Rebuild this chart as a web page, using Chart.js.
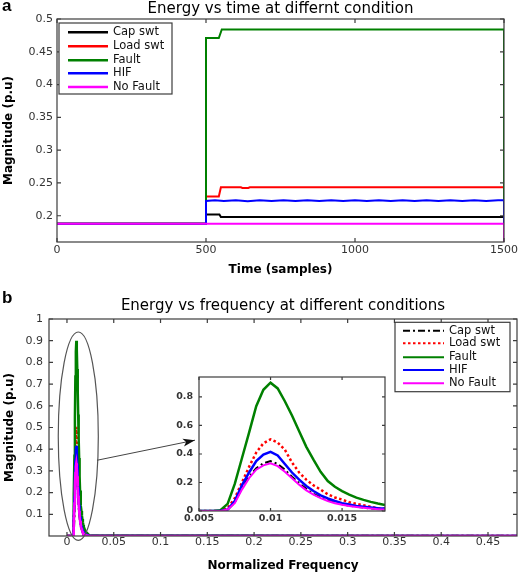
<!DOCTYPE html>
<html>
<head>
<meta charset="utf-8">
<script src="https://cdn.jsdelivr.net/npm/chart.js@4.4.0/dist/chart.umd.min.js"></script>
<style>
html,body{margin:0;padding:0;background:#fff;}
#wrap{position:relative;width:520px;height:573px;overflow:hidden;background:#fff;}
canvas{position:absolute;}
</style>
</head>
<body>
<div id="wrap">
<canvas id="cA" width="520" height="283" style="left:0;top:0;width:520px;height:283px"></canvas>
<canvas id="cB" width="520" height="290" style="left:0;top:283px;width:520px;height:290px"></canvas>
<canvas id="cI" width="245" height="170" style="left:150px;top:365px;width:245px;height:170px"></canvas>
</div>
<script>
// ---------- DATA: panel (a) energy vs time ----------
const seriesNames = ['Cap swt', 'Load swt', 'Fault', 'HIF', 'No Fault'];
const timeTicks = [0, 500, 1000, 1500];
const energyTicks = [0.2, 0.25, 0.3, 0.35, 0.4, 0.45, 0.5];

const capTimeX   = [0, 500, 500, 545, 550, 1500, 1500];
const capTimeY   = [0.188, 0.188, 0.202, 0.202, 0.198, 0.198, 0];
const loadTimeX  = [0, 500, 500, 543, 550, 617, 622, 642, 647, 1500, 1500];
const loadTimeY  = [0.188, 0.188, 0.2295, 0.2295, 0.2435, 0.2435, 0.2425, 0.2425, 0.2435, 0.2435, 0];
const faultTimeX = [0, 500, 500, 543, 553, 1500, 1500];
const faultTimeY = [0.188, 0.188, 0.471, 0.471, 0.484, 0.484, 0];
const hifTimeX   = [0, 500, 500, 530, 560, 600, 640, 680, 720, 760, 800, 840, 880, 920, 960, 1000, 1040, 1080, 1120, 1160, 1200, 1240, 1280, 1320, 1360, 1400, 1440, 1480, 1500, 1500];
const hifTimeY   = [0.188, 0.188, 0.2225, 0.2235, 0.2225, 0.2235, 0.2222, 0.2235, 0.2225, 0.2236, 0.2224, 0.2235, 0.2226, 0.2236, 0.2224, 0.2235, 0.2225, 0.2236, 0.2224, 0.2235, 0.2225, 0.2236, 0.2224, 0.2236, 0.2225, 0.2235, 0.2224, 0.2236, 0.2235, 0];
const noFaultTimeX = [0, 1500, 1500];
const noFaultTimeY = [0.188, 0.188, 0];

// ---------- DATA: panel (b) energy vs normalized frequency ----------
const freqTicks = [0, 0.05, 0.1, 0.15, 0.2, 0.25, 0.3, 0.35, 0.4, 0.45];
const magTicks = [0.1, 0.2, 0.3, 0.4, 0.5, 0.6, 0.7, 0.8, 0.9, 1];
const zoomFreqTicks = [0.005, 0.01, 0.015];
const zoomMagTicks = [0, 0.2, 0.4, 0.6, 0.8];

const freqX = [0.005, 0.0055, 0.006, 0.0065, 0.007, 0.0075, 0.008, 0.0085, 0.009, 0.0095, 0.010, 0.0105, 0.011, 0.0115, 0.012, 0.0125, 0.013, 0.0135, 0.014, 0.0145, 0.015, 0.0155, 0.016, 0.0165, 0.017, 0.0175, 0.018];
const capFreq   = [0, 0, 0, 0, 0.01, 0.06, 0.16, 0.24, 0.30, 0.335, 0.35, 0.33, 0.29, 0.24, 0.195, 0.155, 0.12, 0.095, 0.075, 0.06, 0.048, 0.038, 0.03, 0.024, 0.018, 0.014, 0.01];
const loadFreq  = [0, 0, 0, 0, 0.02, 0.09, 0.20, 0.31, 0.41, 0.475, 0.503, 0.48, 0.43, 0.34, 0.27, 0.22, 0.18, 0.15, 0.117, 0.095, 0.08, 0.062, 0.05, 0.04, 0.03, 0.02, 0.015];
const faultFreq = [0, 0, 0, 0.005, 0.05, 0.19, 0.37, 0.55, 0.735, 0.85, 0.90, 0.86, 0.77, 0.67, 0.56, 0.45, 0.36, 0.275, 0.21, 0.17, 0.14, 0.115, 0.094, 0.078, 0.064, 0.052, 0.042];
const hifFreq   = [0, 0, 0, 0, 0.01, 0.07, 0.18, 0.27, 0.35, 0.395, 0.415, 0.39, 0.33, 0.27, 0.22, 0.175, 0.14, 0.11, 0.088, 0.07, 0.055, 0.045, 0.036, 0.03, 0.025, 0.02, 0.017];
const noFaultFreq = [0, 0, 0, 0, 0.01, 0.055, 0.15, 0.23, 0.29, 0.32, 0.335, 0.315, 0.275, 0.23, 0.185, 0.145, 0.115, 0.09, 0.07, 0.055, 0.044, 0.035, 0.028, 0.022, 0.017, 0.013, 0.01];
// spectrum outside the peak: zero from 0 up to Nyquist (0.5)
const headFreqX = [0];
const tailFreqX = [0.020, 0.024, 0.5];
const capTail = [0.004, 0, 0];
const loadTail = [0.006, 0, 0];
const faultTail = [0.02, 0.003, 0];
const hifTail = [0.007, 0, 0];
const noFaultTail = [0.004, 0, 0];

// ---------- helpers ----------
const FONT = 'DejaVu Sans';
const COLORS = ['#000000', '#ff0000', '#008000', '#0000ff', '#ff00ff'];
const fmt = v => String(+Number(v).toFixed(4));
const pts = (xs, ys) => xs.map((x, i) => ({x: x, y: ys[i]}));
const fullSpectrum = (ys, tail) => pts(headFreqX.concat(freqX, tailFreqX), [0].concat(ys, tail));

function setTicks(list) { return s => { s.ticks = list.map(v => ({value: v})); }; }

function framePlugin(len, fillWhite) {
  return {
    id: 'frame',
    beforeDatasetsDraw(chart) {
      if (!fillWhite) return;
      const a = chart.chartArea, ctx = chart.ctx;
      ctx.save(); ctx.fillStyle = '#fff';
      ctx.fillRect(a.left, a.top, a.right - a.left, a.bottom - a.top);
      ctx.restore();
    },
    afterDatasetsDraw(chart) {
      const {ctx, chartArea: a, scales} = chart;
      ctx.save();
      ctx.strokeStyle = '#3c3c3c'; ctx.lineWidth = 1.2;
      ctx.strokeRect(a.left, a.top, a.right - a.left, a.bottom - a.top);
      ctx.beginPath();
      scales.x.ticks.forEach(t => {
        const px = scales.x.getPixelForValue(t.value);
        ctx.moveTo(px, a.bottom); ctx.lineTo(px, a.bottom - len);
        ctx.moveTo(px, a.top); ctx.lineTo(px, a.top + len);
      });
      scales.y.ticks.forEach(t => {
        const py = scales.y.getPixelForValue(t.value);
        ctx.moveTo(a.left, py); ctx.lineTo(a.left + len, py);
        ctx.moveTo(a.right, py); ctx.lineTo(a.right - len, py);
      });
      ctx.stroke();
      ctx.restore();
    }
  };
}

function legendPlugin(cfg) {
  return {
    id: 'boxLegend',
    afterDraw(chart) {
      const ctx = chart.ctx;
      const [x0, y0, x1, y1] = cfg.box;
      ctx.save();
      ctx.fillStyle = '#fff'; ctx.fillRect(x0, y0, x1 - x0, y1 - y0);
      ctx.strokeStyle = '#3c3c3c'; ctx.lineWidth = 1.2; ctx.strokeRect(x0, y0, x1 - x0, y1 - y0);
      chart.data.datasets.forEach((d, i) => {
        const y = cfg.rows[i];
        ctx.beginPath();
        ctx.strokeStyle = d.borderColor; ctx.lineWidth = cfg.lineWidth;
        ctx.setLineDash(d.borderDash || []);
        ctx.moveTo(cfg.lineX[0], y); ctx.lineTo(cfg.lineX[1], y); ctx.stroke();
        ctx.setLineDash([]);
        ctx.fillStyle = '#111'; ctx.font = cfg.font; ctx.textBaseline = 'middle'; ctx.textAlign = 'left';
        ctx.fillText(d.label, cfg.textX, y);
      });
      ctx.restore();
    }
  };
}

function letterPlugin(letter, x, y) {
  return {
    id: 'panelLetter',
    afterDraw(chart) {
      const ctx = chart.ctx;
      ctx.save(); ctx.fillStyle = '#000'; ctx.font = 'bold 17px "Liberation Sans"';
      ctx.textBaseline = 'alphabetic'; ctx.fillText(letter, x, y); ctx.restore();
    }
  };
}

const ellipsePlugin = {
  id: 'zoomEllipse',
  afterDatasetsDraw(chart) {
    const {ctx, scales: {x, y}} = chart;
    const cx = x.getPixelForValue(0.0121), cy = y.getPixelForValue(0.46);
    const rx = x.getPixelForValue(0.0121 + 0.0214) - cx;
    const ry = cy - y.getPixelForValue(0.46 + 0.48);
    ctx.save();
    ctx.strokeStyle = '#555'; ctx.lineWidth = 1.2;
    ctx.beginPath(); ctx.ellipse(cx, cy, rx, ry, 0, 0, Math.PI * 2); ctx.stroke();
    // arrow to the inset
    const sx = x.getPixelForValue(0.0321), sy = y.getPixelForValue(0.349);
    const ex = x.getPixelForValue(0.1368), ey = y.getPixelForValue(0.4416);
    const ang = Math.atan2(ey - sy, ex - sx);
    ctx.strokeStyle = '#444'; ctx.lineWidth = 1;
    ctx.beginPath(); ctx.moveTo(sx, sy); ctx.lineTo(ex, ey); ctx.stroke();
    ctx.fillStyle = '#111';
    ctx.beginPath();
    ctx.moveTo(ex, ey);
    ctx.lineTo(ex - 12 * Math.cos(ang) + 4 * Math.sin(ang), ey - 12 * Math.sin(ang) - 4 * Math.cos(ang));
    ctx.lineTo(ex - 9 * Math.cos(ang), ey - 9 * Math.sin(ang));
    ctx.lineTo(ex - 12 * Math.cos(ang) - 4 * Math.sin(ang), ey - 12 * Math.sin(ang) + 4 * Math.cos(ang));
    ctx.closePath(); ctx.fill();
    ctx.restore();
  }
};

const tickFont = {family: FONT, size: 11};
const axisTitleFont = {family: FONT, size: 12, weight: 'bold'};

// ---------- panel (a) ----------
const timeSeries = [[capTimeX, capTimeY], [loadTimeX, loadTimeY], [faultTimeX, faultTimeY], [hifTimeX, hifTimeY], [noFaultTimeX, noFaultTimeY]];
new Chart(document.getElementById('cA'), {
  type: 'line',
  data: {
    datasets: timeSeries.map((s, i) => ({
      label: seriesNames[i], data: pts(s[0], s[1]), borderColor: COLORS[i],
      borderWidth: 2, pointRadius: 0, tension: 0, fill: false, order: 5 - i
    }))
  },
  options: {
    responsive: false, animation: false, events: [],
    layout: {padding: {left: 0, right: 14, top: 0, bottom: 0}},
    plugins: {
      legend: {display: false}, tooltip: {enabled: false},
      title: {display: true, text: 'Energy vs time at differnt condition', fullSize: false,
              color: '#000', font: {family: FONT, size: 15, weight: 'normal'}, padding: {top: 0, bottom: 1}}
    },
    scales: {
      x: {type: 'linear', min: 0, max: 1500,
          grid: {display: false, drawTicks: false}, border: {display: false},
          ticks: {font: tickFont, color: '#333', padding: 2, autoSkip: false, maxRotation: 0, callback: fmt},
          title: {display: true, text: 'Time (samples)', font: axisTitleFont, color: '#000', padding: {top: 0, bottom: 6}},
          afterBuildTicks: setTicks(timeTicks), afterFit: s => { s.height = 41; }},
      y: {type: 'linear', min: 0.16, max: 0.5,
          grid: {display: false, drawTicks: false}, border: {display: false},
          ticks: {font: tickFont, color: '#333', padding: 4, autoSkip: false, callback: fmt},
          title: {display: true, text: 'Magnitude (p.u)', font: axisTitleFont, color: '#000', padding: {top: 2, bottom: 0}},
          afterBuildTicks: setTicks(energyTicks), afterFit: s => { s.width = 57; }}
    }
  },
  plugins: [framePlugin(4, false),
            legendPlugin({box: [59, 23, 172, 94], rows: [32.3, 46.3, 60.3, 73.2, 87], lineX: [68, 108], textX: 113,
                          lineWidth: 2.5, font: '11.5px "DejaVu Sans"'}),
            letterPlugin('a', 2, 11)]
});

// ---------- panel (b) ----------
const freqSeries = [capFreq, loadFreq, faultFreq, hifFreq, noFaultFreq];
const freqTails = [capTail, loadTail, faultTail, hifTail, noFaultTail];
const dashes = [[7, 3, 2, 3], [2.5, 2.5], [], [], []];
new Chart(document.getElementById('cB'), {
  type: 'line',
  data: {
    datasets: freqSeries.map((ys, i) => ({
      label: seriesNames[i], data: fullSpectrum(ys, freqTails[i]), borderColor: COLORS[i], borderDash: dashes[i],
      borderWidth: 2.5, pointRadius: 0, tension: 0, fill: false, order: 5 - i
    }))
  },
  options: {
    responsive: false, animation: false, events: [],
    layout: {padding: {left: 0, right: 3, top: 0, bottom: 0}},
    plugins: {
      legend: {display: false}, tooltip: {enabled: false},
      title: {display: true, text: 'Energy vs frequency at different conditions', fullSize: false,
              color: '#000', font: {family: FONT, size: 15, weight: 'normal'}, padding: {top: 14, bottom: 4}}
    },
    scales: {
      x: {type: 'linear', min: -0.0192, max: 0.481,
          grid: {display: false, drawTicks: false}, border: {display: false},
          ticks: {font: tickFont, color: '#333', padding: 0, autoSkip: false, maxRotation: 0, callback: fmt},
          title: {display: true, text: 'Normalized Frequency', font: axisTitleFont, color: '#000', padding: {top: 0, bottom: 0}},
          afterBuildTicks: setTicks(freqTicks), afterFit: s => { s.height = 37; }},
      y: {type: 'linear', min: 0, max: 1,
          grid: {display: false, drawTicks: false}, border: {display: false},
          ticks: {font: tickFont, color: '#333', padding: 6, autoSkip: false, callback: fmt},
          title: {display: true, text: 'Magnitude (p.u)', font: axisTitleFont, color: '#000', padding: {top: 3, bottom: 0}},
          afterBuildTicks: setTicks(magTicks), afterFit: s => { s.width = 49; }}
    }
  },
  plugins: [framePlugin(4, false), ellipsePlugin,
            legendPlugin({box: [395, 39.3, 510, 108.7], rows: [47.7, 60.3, 74.3, 87, 100.3], lineX: [403, 444], textX: 449,
                          lineWidth: 2, font: '11.5px "DejaVu Sans"'}),
            letterPlugin('b', 2, 20)]
});

// ---------- inset (zoom of the peak) ----------
const insetWidths = [2, 2.5, 2.5, 2.5, 2];
new Chart(document.getElementById('cI'), {
  type: 'line',
  data: {
    datasets: freqSeries.map((ys, i) => ({
      label: seriesNames[i], data: pts(freqX, ys), borderColor: COLORS[i], borderDash: dashes[i],
      borderWidth: insetWidths[i], pointRadius: 0, tension: 0, fill: false, order: 5 - i
    }))
  },
  options: {
    responsive: false, animation: false, events: [],
    layout: {padding: {left: 0, right: 10, top: 12, bottom: 0}},
    plugins: {legend: {display: false}, tooltip: {enabled: false}, title: {display: false}},
    scales: {
      x: {type: 'linear', min: 0.005, max: 0.018,
          grid: {display: false, drawTicks: false}, border: {display: false},
          ticks: {font: {family: FONT, size: 9.5, weight: 'bold'}, color: '#333', padding: 2, autoSkip: false, maxRotation: 0, callback: fmt},
          afterBuildTicks: setTicks(zoomFreqTicks), afterFit: s => { s.height = 24; }},
      y: {type: 'linear', min: 0, max: 0.94,
          grid: {display: false, drawTicks: false}, border: {display: false},
          ticks: {font: {family: FONT, size: 9.5, weight: 'bold'}, color: '#333', padding: 6, autoSkip: false, callback: fmt},
          afterBuildTicks: setTicks(zoomMagTicks), afterFit: s => { s.width = 49; }}
    }
  },
  plugins: [framePlugin(3, true)]
});
</script>
</body>
</html>
